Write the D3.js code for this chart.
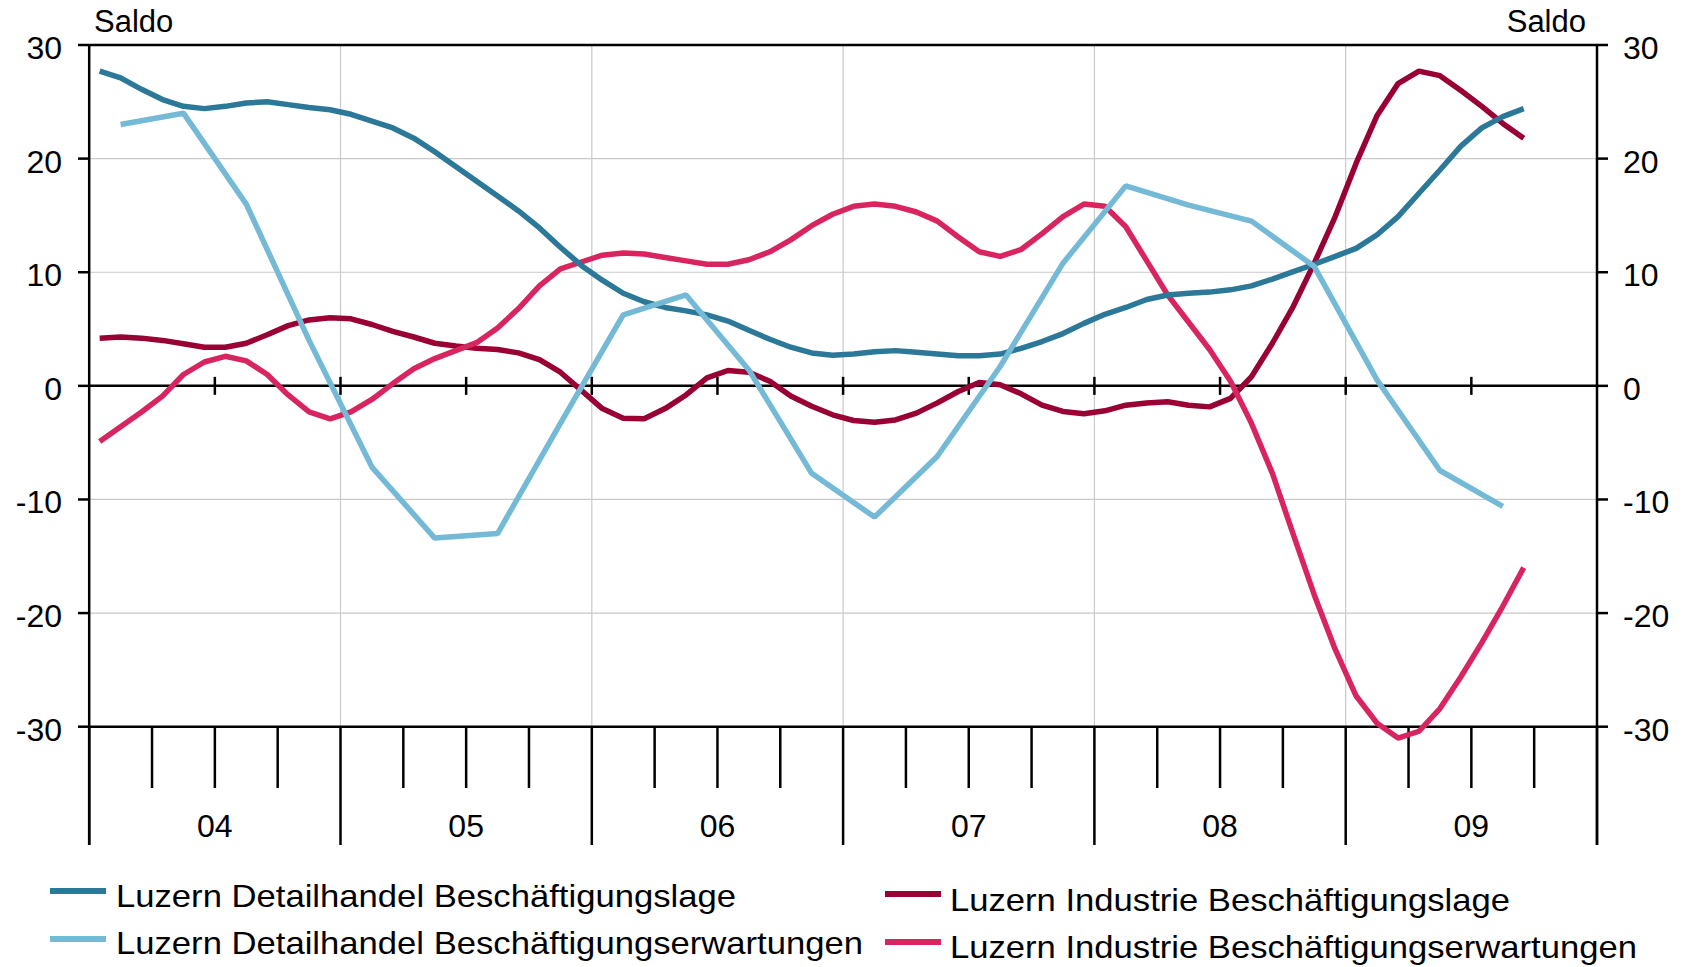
<!DOCTYPE html>
<html>
<head>
<meta charset="utf-8">
<script src="https://cdn.jsdelivr.net/npm/d3@7"></script>
<style>
  body { margin: 0; background: #fff; }
  text { font-family: Arial, "Liberation Sans", sans-serif; fill: #000; }
</style>
</head>
<body>
<div id="chart"></div>
<script>
// monthly series, Jan 2004 .. Sep 2009
const detailLage = [27.7, 27.1, 26.1, 25.2, 24.6, 24.4, 24.6, 24.9, 25.0, 24.75, 24.5, 24.3,
  23.9, 23.3, 22.7, 21.8, 20.6, 19.3, 18.0, 16.7, 15.4, 13.9, 12.2, 10.6,
  9.3, 8.15, 7.4, 6.9, 6.6, 6.25, 5.7, 4.9, 4.1, 3.4, 2.9, 2.7,
  2.8, 3.0, 3.1, 2.95, 2.8, 2.65, 2.65, 2.8, 3.3, 3.9, 4.6, 5.5,
  6.3, 6.9, 7.6, 8.0, 8.15, 8.25, 8.45, 8.8, 9.4, 10.05, 10.7, 11.4,
  12.1, 13.3, 14.9, 16.95, 19.0, 21.1, 22.7, 23.7, 24.4]

const industrieLage = [4.2, 4.3, 4.2, 4.0, 3.7, 3.4, 3.4, 3.75, 4.5, 5.3, 5.8, 6.0,
  5.9, 5.4, 4.8, 4.3, 3.75, 3.5, 3.3, 3.2, 2.9, 2.3, 1.2, -0.4,
  -2.0, -2.85, -2.9, -2.0, -0.8, 0.7, 1.35, 1.2, 0.4, -0.9, -1.8, -2.55,
  -3.05, -3.2, -3.0, -2.4, -1.5, -0.5, 0.3, 0.1, -0.7, -1.7, -2.25, -2.45,
  -2.2, -1.7, -1.5, -1.4, -1.7, -1.85, -1.1, 0.8, 3.75, 7.0, 10.8, 14.9,
  19.6, 23.8, 26.6, 27.7, 27.3, 26.0, 24.6, 23.1, 21.8]

const industrieErw = [-4.9, -3.6, -2.3, -0.9, 1.0, 2.1, 2.6, 2.2, 1.0, -0.8, -2.3, -2.9,
  -2.3, -1.2, 0.2, 1.5, 2.4, 3.1, 3.8, 5.1, 6.8, 8.8, 10.3, 10.9,
  11.5, 11.7, 11.6, 11.3, 11.0, 10.7, 10.7, 11.1, 11.8, 12.85, 14.1, 15.1,
  15.8, 16.0, 15.8, 15.3, 14.5, 13.1, 11.8, 11.4, 12.0, 13.4, 14.9, 16.0,
  15.8, 14.0, 11.0, 8.0, 5.6, 3.2, 0.4, -3.3, -7.7, -13.1, -18.4, -23.2,
  -27.3, -29.7, -31.0, -30.4, -28.4, -25.6, -22.6, -19.4, -16.0]

// quarterly series, Q1 2004 .. Q3 2009
const detailErw = [23.0, 24.0, 16.0, 4.0, -7.15, -13.4, -13.0, -3.3,
  6.25, 8.0, 1.4, -7.7, -11.55, -6.2, 1.7, 10.8,
  17.6, 15.9, 14.5, 10.5, 0.5, -7.45, -10.6]

const yearLabels = ["04", "05", "06", "07", "08", "09"]
const yTicks = [-30, -20, -10, 0, 10, 20, 30]

const seriesNames = [
  "Luzern Detailhandel Beschäftigungslage",
  "Luzern Detailhandel Beschäftigungserwartungen",
  "Luzern Industrie Beschäftigungslage",
  "Luzern Industrie Beschäftigungserwartungen"
]
const seriesColors = ["#2c7898", "#74b9d6", "#990033", "#d9255f"]

const width = 1689
  , height = 967
  , x0 = 89.2
  , x1 = 1597
  , yTop = 45
  , yBottom = 726.7
  , lineWidth = 5.5;

var svg = d3.select("#chart").append("svg")
  .attr("width", width)
  .attr("height", height);

var x = d3.scaleLinear().domain([2004, 2010]).range([x0, x1]);
var y = d3.scaleLinear().domain([-30, 30]).range([yBottom, yTop]);

// grid
svg.append("g").selectAll("line")
  .data(yTicks.filter(d => d != 0 && Math.abs(d) != 30))
  .enter().append("line")
  .attr("x1", x0).attr("x2", x1)
  .attr("y1", d => y(d)).attr("y2", d => y(d))
  .style("stroke", "#c9c9c9").style("stroke-width", 1.2);

svg.append("g").selectAll("line")
  .data(d3.range(2005, 2010))
  .enter().append("line")
  .attr("x1", d => x(d)).attr("x2", d => x(d))
  .attr("y1", yTop).attr("y2", yBottom)
  .style("stroke", "#c9c9c9").style("stroke-width", 1.2);

// x band below plot
var xband = svg.append("g").style("stroke", "#000").style("stroke-width", 2.5);
xband.selectAll(".major")
  .data(d3.range(2004, 2011))
  .enter().append("line")
  .attr("x1", d => x(d)).attr("x2", d => x(d))
  .attr("y1", yBottom).attr("y2", 845);
xband.selectAll(".minor")
  .data(d3.range(2004, 2010, 0.25).filter(d => d % 1 != 0))
  .enter().append("line")
  .attr("x1", d => x(d)).attr("x2", d => x(d))
  .attr("y1", yBottom).attr("y2", 788);

svg.append("g").selectAll("text")
  .data(yearLabels)
  .enter().append("text")
  .attr("x", (d, i) => x(2004.5 + i))
  .attr("y", 837)
  .attr("text-anchor", "middle")
  .style("font-size", "32px")
  .text(d => d);

// y axes
var yaxes = svg.append("g").style("stroke", "#000").style("stroke-width", 2.5);
yaxes.append("line").attr("x1", x0).attr("x2", x0).attr("y1", yTop).attr("y2", 845);
yaxes.append("line").attr("x1", x1).attr("x2", x1).attr("y1", yTop).attr("y2", 845);
yaxes.selectAll(".lt")
  .data(yTicks)
  .enter().append("line")
  .attr("x1", 78).attr("x2", x0)
  .attr("y1", d => y(d)).attr("y2", d => y(d));
yaxes.selectAll(".rt")
  .data(yTicks)
  .enter().append("line")
  .attr("x1", x1).attr("x2", 1608)
  .attr("y1", d => y(d)).attr("y2", d => y(d));
yaxes.selectAll(".full")
  .data([30, 0, -30])
  .enter().append("line")
  .attr("x1", x0).attr("x2", x1)
  .attr("y1", d => y(d)).attr("y2", d => y(d));
// half-year ticks on the zero line
yaxes.selectAll(".zt")
  .data(d3.range(2004.5, 2010, 0.5))
  .enter().append("line")
  .attr("x1", d => x(d)).attr("x2", d => x(d))
  .attr("y1", y(0) - 9).attr("y2", y(0) + 9);

svg.append("g").selectAll("text")
  .data(yTicks)
  .enter().append("text")
  .attr("x", 62)
  .attr("y", d => y(d) + 14)
  .attr("text-anchor", "end")
  .style("font-size", "32px")
  .text(d => d);
svg.append("g").selectAll("text")
  .data(yTicks)
  .enter().append("text")
  .attr("x", 1623)
  .attr("y", d => y(d) + 14)
  .style("font-size", "32px")
  .text(d => d);

svg.append("text").attr("x", 94).attr("y", 32).style("font-size", "31px").text("Saldo");
svg.append("text").attr("x", 1586).attr("y", 32).attr("text-anchor", "end")
  .style("font-size", "31px").text("Saldo");

// series
var monthly = d3.line()
  .x((d, i) => x(2004 + (i + 0.5) / 12))
  .y(d => y(d));
var quarterly = d3.line()
  .x((d, i) => x(2004 + (3 * i + 1.5) / 12))
  .y(d => y(d));

var plotted = [
  { path: monthly(industrieLage), color: seriesColors[2] },
  { path: monthly(industrieErw), color: seriesColors[3] },
  { path: monthly(detailLage), color: seriesColors[0] },
  { path: quarterly(detailErw), color: seriesColors[1] }
];
svg.append("g").selectAll("path")
  .data(plotted)
  .enter().append("path")
  .attr("d", d => d.path)
  .style("fill", "none")
  .style("stroke", d => d.color)
  .style("stroke-width", lineWidth)
  .style("stroke-linejoin", "bevel");

// legend
const legendPos = [
  { sx: 50, sy: 891, tx: 116, ty: 907, w: 620 },
  { sx: 50, sy: 939, tx: 116, ty: 954, w: 747 },
  { sx: 885, sy: 894, tx: 950, ty: 911, w: 560 },
  { sx: 885, sy: 942, tx: 950, ty: 958, w: 687 }
];
var legend = svg.append("g");
legend.selectAll("line")
  .data(seriesNames)
  .enter().append("line")
  .attr("x1", (d, i) => legendPos[i].sx)
  .attr("x2", (d, i) => legendPos[i].sx + 56)
  .attr("y1", (d, i) => legendPos[i].sy)
  .attr("y2", (d, i) => legendPos[i].sy)
  .style("stroke", (d, i) => seriesColors[i])
  .style("stroke-width", 6);
legend.selectAll("text")
  .data(seriesNames)
  .enter().append("text")
  .attr("x", (d, i) => legendPos[i].tx)
  .attr("y", (d, i) => legendPos[i].ty)
  .attr("textLength", (d, i) => legendPos[i].w)
  .attr("lengthAdjust", "spacingAndGlyphs")
  .style("font-size", "32px")
  .text(d => d);
</script>
</body>
</html>
